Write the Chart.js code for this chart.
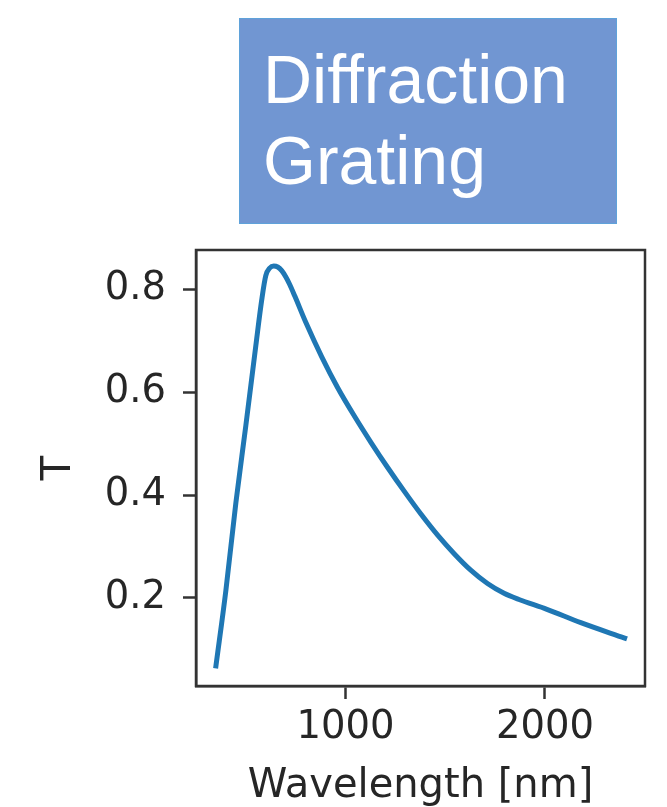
<!DOCTYPE html>
<html>
<head>
<meta charset="utf-8">
<script src="https://cdn.jsdelivr.net/npm/chart.js@4/dist/chart.umd.min.js"></script>
<style>
  html, body { margin: 0; padding: 0; background: #ffffff; }
  body { width: 667px; height: 807px; position: relative; overflow: hidden; }
  #wrap { position: absolute; left: 0; top: 0; width: 667px; height: 807px; }
  #titleBox {
    position: absolute; left: 239px; top: 18px; width: 378px; height: 206px;
    box-sizing: border-box; background: #7196d2; border: 1.5px solid #5fa2da;
    color: #ffffff; font-family: 'Liberation Sans', Arial, sans-serif;
    font-size: 68px; line-height: 81px; padding: 20px 0 0 23px; white-space: nowrap;
  }
</style>
</head>
<body>
<div id="wrap"><canvas id="c" width="667" height="807"></canvas></div>
<div id="titleBox">Diffraction<br>Grating</div>
<script>
// ---- data ----
const wavelengths = [350, 400, 450, 500, 550, 580, 600, 620, 640, 660, 680, 700, 720, 745, 800, 880, 960, 1045, 1128, 1212, 1295, 1378, 1462, 1545, 1628, 1712, 1795, 1870, 2010, 2180, 2400];
const transmission = [0.068, 0.215, 0.385, 0.535, 0.690, 0.780, 0.826, 0.841, 0.845, 0.843, 0.836, 0.824, 0.809, 0.787, 0.736, 0.669, 0.609, 0.553, 0.502, 0.453, 0.407, 0.363, 0.322, 0.286, 0.254, 0.228, 0.209, 0.197, 0.178, 0.152, 0.122];
const xTickValues = [1000, 2000];
const yTickValues = [0.2, 0.4, 0.6, 0.8];
const xTitle = 'Wavelength [nm]';
const yTitle = 'T';

const axisColor = '#333333';
const textColor = '#262626';
const tickFont = { family: "'DejaVu Sans', sans-serif", size: 38.5, lineHeight: 1 };
const titleFont = { family: "'DejaVu Sans', sans-serif", size: 40, lineHeight: 1 };

const framePlugin = {
  id: 'frame',
  afterDatasetsDraw(chart) {
    const { ctx, chartArea: a } = chart;
    ctx.save();
    ctx.strokeStyle = axisColor;
    ctx.lineWidth = 2.5;
    ctx.strokeRect(a.left, a.top, a.right - a.left, a.bottom - a.top);
    ctx.restore();
  }
};

new Chart(document.getElementById('c'), {
  type: 'line',
  data: {
    datasets: [{
      data: wavelengths.map((w, i) => ({ x: w, y: transmission[i] })),
      borderColor: '#1f77b4',
      borderWidth: 5,
      borderCapStyle: 'square',
      borderJoinStyle: 'round',
      pointRadius: 0,
      cubicInterpolationMode: 'monotone',
      fill: false
    }]
  },
  options: {
    responsive: false,
    animation: false,
    events: [],
    layout: { padding: { top: 250, right: 22, left: 0, bottom: 0 } },
    plugins: { legend: { display: false }, tooltip: { enabled: false } },
    scales: {
      x: {
        type: 'linear',
        min: 250, max: 2502,
        afterBuildTicks: s => { s.ticks = xTickValues.map(v => ({ value: v })); },
        afterFit: s => { s.height = 121; },
        grid: { display: true, drawOnChartArea: false, drawTicks: true, tickLength: 13, tickWidth: 2.5, tickColor: axisColor },
        border: { display: true, color: axisColor, width: 2.5 },
        ticks: { color: textColor, font: tickFont, padding: 10, maxRotation: 0, callback: v => String(v) },
        title: { display: true, text: xTitle, color: textColor, font: titleFont, padding: { top: 0, bottom: 0 } }
      },
      y: {
        type: 'linear',
        min: 0.029, max: 0.876,
        afterBuildTicks: s => { s.ticks = yTickValues.map(v => ({ value: v })); },
        afterFit: s => { s.width = 196; },
        grid: { display: true, drawOnChartArea: false, drawTicks: true, tickLength: 13, tickWidth: 2.5, tickColor: axisColor },
        border: { display: true, color: axisColor, width: 2.5 },
        ticks: { color: textColor, font: tickFont, padding: 17, callback: v => v.toFixed(1) },
        title: { display: true, text: yTitle, color: textColor, font: titleFont, padding: { top: 40, bottom: 0 } }
      }
    }
  },
  plugins: [framePlugin]
});
</script>
</body>
</html>
